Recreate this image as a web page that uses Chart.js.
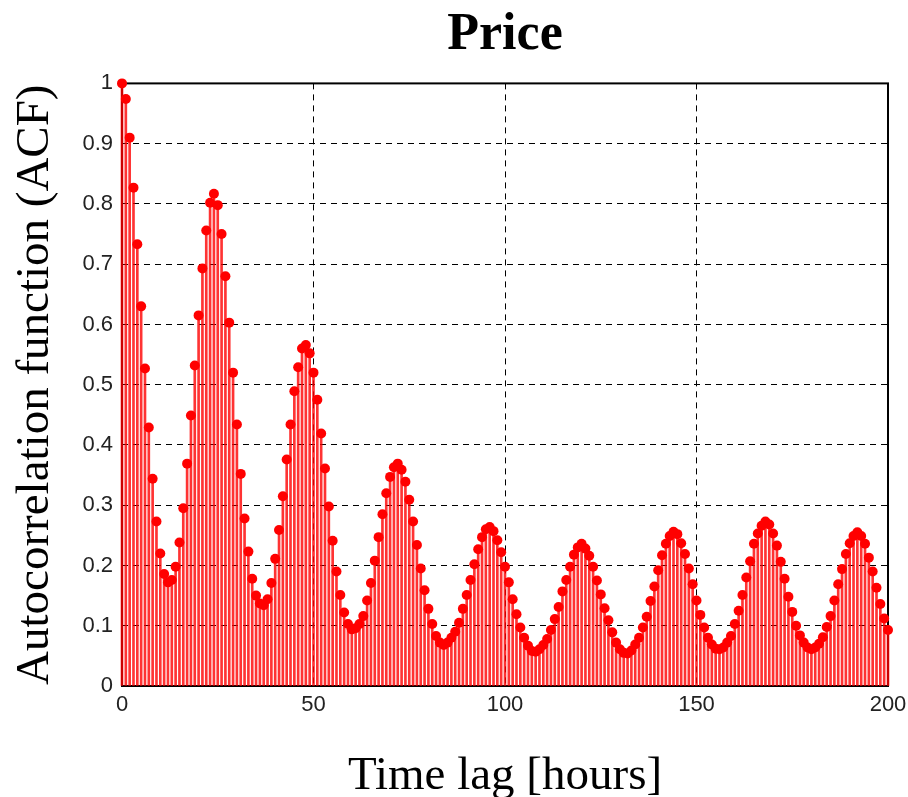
<!DOCTYPE html>
<html>
<head>
<meta charset="utf-8">
<title>Price ACF</title>
<script src="https://cdn.jsdelivr.net/npm/chart.js@4.4.1/dist/chart.umd.min.js"></script>
<style>
  html, body { margin: 0; padding: 0; background: #fff; }
  #acfChart { display: block; }
</style>
</head>
<body>
<canvas id="acfChart" width="908" height="797"></canvas>
<script>
// autocorrelation of hourly price, lag 0..200
const acfValues = [
  1.000, 0.974, 0.910, 0.827, 0.733, 0.630, 0.527, 0.429, 0.344, 0.273, // 0-9
  0.220, 0.186, 0.172, 0.176, 0.198, 0.238, 0.295, 0.369, 0.449, 0.532, // 10-19
  0.615, 0.693, 0.756, 0.802, 0.817, 0.798, 0.750, 0.680, 0.603, 0.520, // 20-29
  0.434, 0.352, 0.278, 0.223, 0.178, 0.150, 0.137, 0.134, 0.144, 0.171, // 30-39
  0.211, 0.259, 0.315, 0.376, 0.434, 0.489, 0.529, 0.560, 0.566, 0.552, // 40-49
  0.520, 0.475, 0.419, 0.361, 0.298, 0.241, 0.190, 0.151, 0.122, 0.103, // 50-59
  0.094, 0.096, 0.103, 0.116, 0.142, 0.171, 0.208, 0.247, 0.285, 0.320, // 60-69
  0.347, 0.363, 0.369, 0.359, 0.339, 0.309, 0.273, 0.234, 0.195, 0.159, // 70-79
  0.128, 0.103, 0.083, 0.072, 0.068, 0.072, 0.080, 0.090, 0.105, 0.128, // 80-89
  0.151, 0.176, 0.202, 0.227, 0.247, 0.260, 0.264, 0.257, 0.242, 0.222, // 90-99
  0.198, 0.172, 0.144, 0.119, 0.097, 0.080, 0.067, 0.058, 0.057, 0.061, // 100-109
  0.068, 0.078, 0.093, 0.111, 0.131, 0.157, 0.176, 0.198, 0.218, 0.230, // 110-119
  0.236, 0.228, 0.216, 0.198, 0.175, 0.152, 0.129, 0.109, 0.089, 0.072, // 120-129
  0.061, 0.055, 0.054, 0.059, 0.069, 0.080, 0.097, 0.115, 0.141, 0.165, // 130-139
  0.192, 0.217, 0.236, 0.249, 0.256, 0.252, 0.237, 0.219, 0.195, 0.169, // 140-149
  0.142, 0.118, 0.097, 0.080, 0.069, 0.062, 0.061, 0.064, 0.072, 0.083, // 150-159
  0.103, 0.125, 0.151, 0.180, 0.207, 0.236, 0.253, 0.266, 0.273, 0.268, // 160-169
  0.253, 0.233, 0.206, 0.178, 0.148, 0.123, 0.100, 0.084, 0.072, 0.064, // 170-179
  0.061, 0.064, 0.070, 0.081, 0.098, 0.116, 0.142, 0.169, 0.194, 0.219, // 180-189
  0.237, 0.249, 0.255, 0.249, 0.236, 0.213, 0.190, 0.163, 0.136, 0.112, // 190-199
  0.093                                                                  // 200
];
const lags = acfValues.map((_, i) => i);

const yTickLabels = ['0', '0.1', '0.2', '0.3', '0.4', '0.5', '0.6', '0.7', '0.8', '0.9', '1'];
const xTickLabels = ['0', '50', '100', '150', '200'];

const points = lags.map((lag, i) => ({ x: lag, y: acfValues[i] }));

// solid box round the plot, drawn under the stems
const frameBox = {
  id: 'frameBox',
  beforeDatasetsDraw(chart) {
    const { ctx, chartArea } = chart;
    ctx.save();
    ctx.strokeStyle = '#000';
    ctx.lineWidth = 2;
    ctx.strokeRect(chartArea.left, chartArea.top, chartArea.right - chartArea.left, chartArea.bottom - chartArea.top);
    ctx.restore();
  }
};

const tickFont = { family: "'Liberation Sans', Arial, sans-serif", size: 22 };
const labelFont = { family: "'Liberation Serif', 'Times New Roman', serif", size: 47, lineHeight: 0.85 };

new Chart(document.getElementById('acfChart'), {
  type: 'bar',
  data: {
    datasets: [
      {
        type: 'scatter',
        data: points,
        pointRadius: 5,
        pointBackgroundColor: '#ff0000',
        pointBorderWidth: 0,
        clip: false,
        order: 1
      },
      {
        type: 'bar',
        data: points,
        backgroundColor: 'rgba(255, 0, 0, 0.8)',
        barThickness: 2,
        clip: false,
        order: 2
      }
    ]
  },
  options: {
    responsive: false,
    devicePixelRatio: 1,
    animation: false,
    layout: { padding: { left: 0, right: 20, top: 0, bottom: 0 } },
    plugins: {
      legend: { display: false },
      tooltip: { enabled: false },
      title: {
        display: true,
        text: 'Price',
        fullSize: false,
        color: '#000',
        font: { family: "'Liberation Serif', 'Times New Roman', serif", size: 52, weight: 'bold', lineHeight: 1.2 },
        padding: { top: 4, bottom: 17 }
      }
    },
    scales: {
      x: {
        type: 'linear',
        min: 0,
        max: 200,
        offset: false,
        ticks: {
          stepSize: 50,
          padding: 6,
          color: '#222',
          font: tickFont,
          maxRotation: 0,
          callback: (v, i) => xTickLabels[i]
        },
        grid: { color: '#000', lineWidth: 1, drawTicks: false, offset: false },
        border: { display: false, dash: [6, 5] },
        title: {
          display: true,
          text: 'Time lag [hours]',
          color: '#000',
          font: labelFont,
          padding: { top: 0, bottom: 0 }
        },
        afterFit(scale) {
          scale.height = 111;
          scale.paddingLeft = 0;
          scale.paddingRight = 0;
        }
      },
      y: {
        min: 0,
        max: 1,
        ticks: {
          stepSize: 0.1,
          padding: 9,
          color: '#222',
          font: tickFont,
          callback: (v, i) => yTickLabels[i]
        },
        grid: { color: '#000', lineWidth: 1, drawTicks: false },
        border: { display: false, dash: [6, 5] },
        title: {
          display: true,
          text: 'Autocorrelation function (ACF)',
          color: '#000',
          font: labelFont,
          padding: { top: 16, bottom: 0 }
        },
        afterFit(scale) { scale.width = 122; }
      }
    }
  },
  plugins: [frameBox]
});
</script>
</body>
</html>
